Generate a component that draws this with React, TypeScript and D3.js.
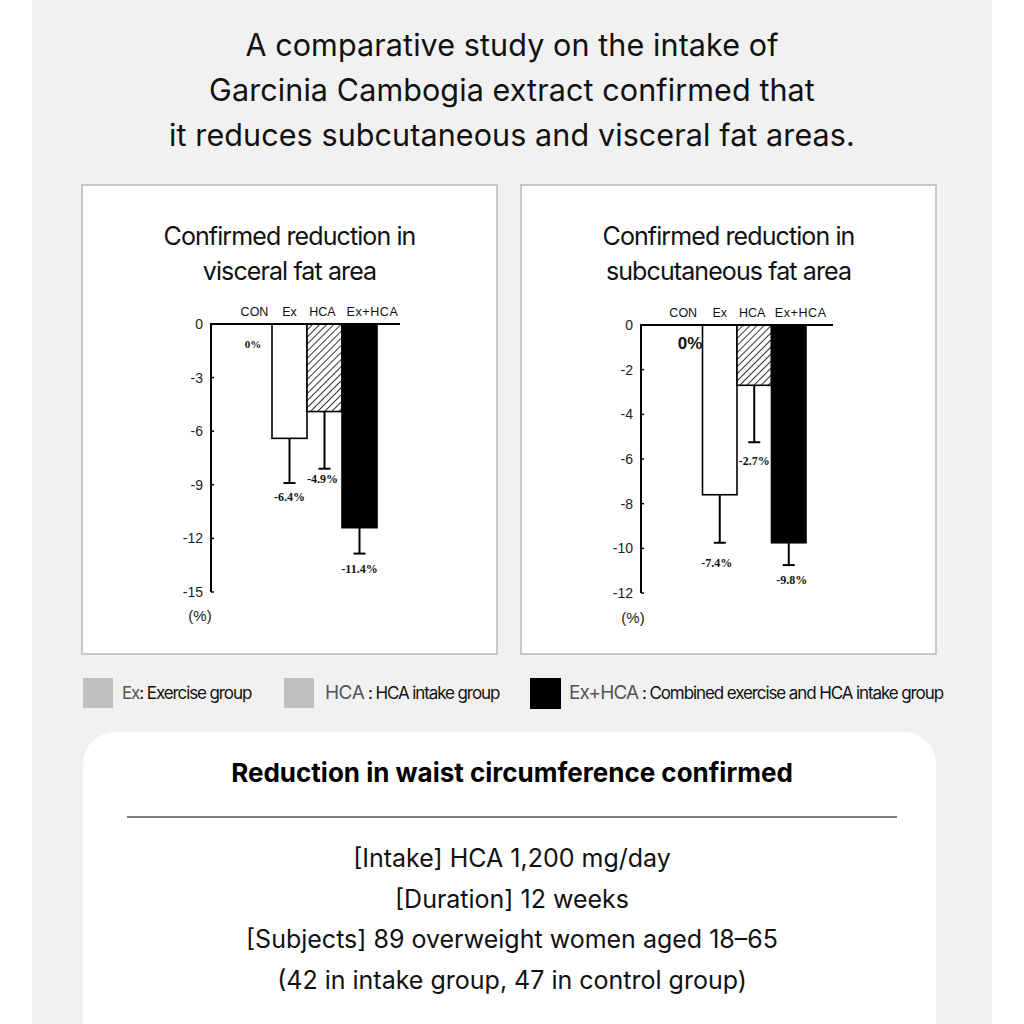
import React from "react";
import * as d3 from "d3";

const titleLines = [
  "A comparative study on the intake of",
  "Garcinia Cambogia extract confirmed that",
  "it reduces subcutaneous and visceral fat areas.",
];

const categories = ["CON", "Ex", "HCA", "Ex+HCA"];

const visceralTitle = ["Confirmed reduction in", "visceral fat area"];
const visceralValues = [0, -6.4, -4.9, -11.4];
const visceralErrorEnds = [0, -8.9, -8.1, -12.85];
const visceralLabels = ["0%", "-6.4%", "-4.9%", "-11.4%"];
const visceralTicks = [0, -3, -6, -9, -12, -15];

const subcutTitle = ["Confirmed reduction in", "subcutaneous fat area"];
const subcutValues = [0, -7.6, -2.7, -9.75];
const subcutErrorEnds = [0, -9.75, -5.25, -10.75];
const subcutLabels = ["0%", "-7.4%", "-2.7%", "-9.8%"];
const subcutTicks = [0, -2, -4, -6, -8, -10, -12];

const legendItems = [
  { key: "Ex", desc: ": Exercise group" },
  { key: "HCA", desc: " : HCA intake group" },
  { key: "Ex+HCA", desc: " : Combined exercise and HCA intake group" },
];

const waistTitle = "Reduction in waist circumference confirmed";
const waistLines = [
  "[Intake] HCA 1,200 mg/day",
  "[Duration] 12 weeks",
  "[Subjects] 89 overweight women aged 18\u201365",
  "(42 in intake group, 47 in control group)",
];

const barFills = ["none", "#ffffff", "url(#hatch)", "#000000"];
const TITLE_FONT = "Inter, 'Noto Sans', sans-serif";

type PanelProps = {
  boxX: number;
  title: string[];
  values: number[];
  errorEnds: number[];
  labels: string[];
  ticks: number[];
  axisX: number;
  axisEnd: number;
  zeroY: number;
  bottomY: number;
  bandRange: [number, number];
  catY: number;
  catDx: number[];
  labelDx: number[];
  labelDy: number[];
  zeroLabel: { x: number; y: number; size: number; font: string };
  unitPos: { x: number; y: number };
};

function Panel(p: PanelProps) {
  const min = p.ticks[p.ticks.length - 1];
  const y = d3.scaleLinear().domain([0, min]).range([p.zeroY, p.bottomY]);
  const x = d3.scaleBand().domain(categories).range(p.bandRange).padding(0);
  const bw = x.bandwidth();
  return (
    <g>
      <rect x={p.boxX} y={185} width={415} height={469} fill="#ffffff" stroke="#c8c8c8" strokeWidth={2} />
      {p.title.map((t, i) => (
        <text key={i} x={p.boxX + 207.5} y={245 + i * 35} textAnchor="middle" fontFamily={TITLE_FONT}
          fontSize={25} letterSpacing={-0.9} fill="#111">{t}</text>
      ))}
      {categories.map((c, i) => (
        <text key={c} x={(x(c) as number) + bw / 2 + p.catDx[i]} y={p.catY} textAnchor="middle"
          fontFamily="'Liberation Sans', Arial, sans-serif" fontSize={12.5} fill="#111"
          letterSpacing={c === "Ex+HCA" ? 0.6 : 0}>{c}</text>
      ))}
      {categories.map((c, i) => {
        if (p.values[i] === 0) return null;
        return (
          <rect key={c} x={x(c)} y={y(0)} width={bw} height={y(p.values[i]) - y(0)}
            fill={barFills[i]} stroke="#000" strokeWidth={1.6} />
        );
      })}
      {categories.map((c, i) => {
        if (p.errorEnds[i] === 0) return null;
        const cx = (x(c) as number) + bw / 2;
        return (
          <g key={c} stroke="#000" strokeWidth={2}>
            <line x1={cx} x2={cx} y1={y(p.values[i])} y2={y(p.errorEnds[i])} />
            <line x1={cx - 6} x2={cx + 6} y1={y(p.errorEnds[i])} y2={y(p.errorEnds[i])} />
          </g>
        );
      })}
      {categories.map((c, i) => {
        if (i === 0) return null;
        const cx = (x(c) as number) + bw / 2 + p.labelDx[i];
        return (
          <text key={c} x={cx} y={y(p.errorEnds[i]) + p.labelDy[i]} textAnchor="middle"
            fontFamily="'Liberation Serif', 'Times New Roman', serif" fontWeight="bold" fontSize={12} fill="#111">
            {p.labels[i]}
          </text>
        );
      })}
      <text x={p.zeroLabel.x} y={p.zeroLabel.y} textAnchor="middle" fontFamily={p.zeroLabel.font}
        fontWeight="bold" fontSize={p.zeroLabel.size} fill="#111">{p.labels[0]}</text>
      <line x1={p.axisX} x2={p.axisX} y1={p.zeroY} y2={p.bottomY} stroke="#000" strokeWidth={2} />
      <line x1={p.axisX - 1} x2={p.axisEnd} y1={p.zeroY} y2={p.zeroY} stroke="#000" strokeWidth={2} />
      {p.ticks.map((t) => (
        <g key={t}>
          <line x1={p.axisX} x2={p.axisX + 3} y1={y(t)} y2={y(t)} stroke="#000" strokeWidth={1.5} />
          <text x={p.axisX - 8} y={y(t) + 5} textAnchor="end" fontFamily="'Liberation Sans', Arial, sans-serif"
            fontSize={14} fill="#222">{t}</text>
        </g>
      ))}
      <text x={p.unitPos.x} y={p.unitPos.y} textAnchor="middle" fontFamily="'Liberation Sans', Arial, sans-serif"
        fontSize={15} fill="#222">(%)</text>
    </g>
  );
}

export default function App() {
  return (
    <div style={{ position: "absolute", left: 0, top: 0 }}>
      <svg width={1024} height={1024} style={{ display: "block" }}>
        <defs>
          <pattern id="hatch" width={5} height={5} patternUnits="userSpaceOnUse" patternTransform="rotate(45)">
            <rect width={5} height={5} fill="#fff" />
            <line x1={0} y1={0} x2={0} y2={5} stroke="#000" strokeWidth={1.6} />
          </pattern>
        </defs>
        <rect x={0} y={0} width={1024} height={1024} fill="#ffffff" />
        <rect x={32} y={0} width={960} height={1024} fill="#f1f1f1" />
        {titleLines.map((t, i) => (
          <text key={i} x={512} y={56 + i * 45} textAnchor="middle" fontFamily={TITLE_FONT} fontSize={30.5}
            letterSpacing={0.1} fill="#111">{t}</text>
        ))}
        <Panel boxX={82} title={visceralTitle} values={visceralValues} errorEnds={visceralErrorEnds}
          labels={visceralLabels} ticks={visceralTicks} axisX={211} axisEnd={400} zeroY={324} bottomY={592}
          bandRange={[237, 377]} catY={316} catDx={[0, 0, -2, 13]} labelDx={[0, 0, -2, 0]} labelDy={[0, 18, 14, 19]}
          zeroLabel={{ x: 253, y: 348, size: 11, font: "'Liberation Serif', serif" }} unitPos={{ x: 200, y: 621 }} />
        <Panel boxX={521} title={subcutTitle} values={subcutValues} errorEnds={subcutErrorEnds}
          labels={subcutLabels} ticks={subcutTicks} axisX={641} axisEnd={833} zeroY={325} bottomY={593}
          bandRange={[668, 806]} catY={317} catDx={[-2, 0, -2, 12]} labelDx={[0, -3, 0, 3]} labelDy={[0, 24, 23, 19]}
          zeroLabel={{ x: 690, y: 349, size: 17, font: "'Liberation Sans', Arial, sans-serif" }} unitPos={{ x: 633, y: 623 }} />
        {/* legend */}
        <rect x={83} y={678} width={30} height={30} fill="#c0c0c0" />
        <text x={122} y={699} fontFamily={TITLE_FONT} fontSize={17} letterSpacing={-1.1} fill="#111">
          <tspan fill="#555">{legendItems[0].key}</tspan>
          <tspan>{legendItems[0].desc}</tspan>
        </text>
        <rect x={284} y={678} width={30} height={30} fill="#c0c0c0" />
        <text x={325} y={699} fontFamily={TITLE_FONT} fontSize={17} letterSpacing={-1.1} fill="#111">
          <tspan fill="#555" fontSize={19} letterSpacing={-0.5}>{legendItems[1].key}</tspan>
          <tspan>{legendItems[1].desc}</tspan>
        </text>
        <rect x={530} y={678} width={31} height={31} fill="#000" />
        <text x={569} y={699} fontFamily={TITLE_FONT} fontSize={17} letterSpacing={-1.1} fill="#111">
          <tspan fill="#555" fontSize={19} letterSpacing={-0.9}>{legendItems[2].key}</tspan>
          <tspan>{legendItems[2].desc}</tspan>
        </text>
        {/* waist box */}
        <rect x={83} y={732} width={853} height={340} rx={32} ry={32} fill="#ffffff" />
        <text x={512} y={782} textAnchor="middle" fontFamily={TITLE_FONT} fontWeight="bold" fontSize={26}
          letterSpacing={0} fill="#000">{waistTitle}</text>
        <line x1={127} x2={897} y1={817} y2={817} stroke="#000" strokeWidth={1.2} />
        {waistLines.map((t, i) => (
          <text key={i} x={512} y={867 + i * 40.5} textAnchor="middle" fontFamily={TITLE_FONT} fontSize={25}
            letterSpacing={0} fill="#111">{t}</text>
        ))}
      </svg>
    </div>
  );
}
